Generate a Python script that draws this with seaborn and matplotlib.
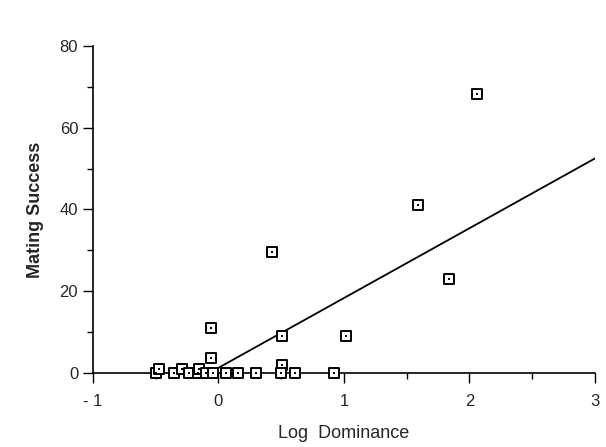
import numpy as np
import pandas as pd
import matplotlib
matplotlib.use('Agg')
import matplotlib.pyplot as plt
import seaborn as sns
from matplotlib.ticker import MultipleLocator

# data
log_dom = [2.06, 1.59, 1.84, 0.43, -0.06, -0.06, 0.51, 1.02, 0.51,
           -0.50, -0.47, -0.35, -0.29, -0.23, -0.16, -0.15, -0.10, -0.04,
           0.06, 0.16, 0.30, 0.50, 0.61, 0.92]
mating = [68.2, 41.1, 23.0, 29.5, 10.9, 3.6, 8.9, 8.9, 2.0,
          0.0, 0.9, 0.0, 0.9, 0.0, 0.0, 0.9, 0.0, 0.0,
          0.0, 0.0, 0.0, 0.0, 0.0, 0.0]
fit_x = [-0.07, 3.0]
fit_y = [0.0, 52.5]
x_ticks = [-1, 0, 1, 2, 3]
x_ticklabels = ['- 1', '0', '1', '2', '3']

df = pd.DataFrame({'Log Dominance': log_dom, 'Mating Success': mating})
fit = pd.DataFrame({'x': fit_x, 'y': fit_y})

sns.set_style('ticks')
plt.rcParams['font.family'] = ['Liberation Sans', 'DejaVu Sans']

fig = plt.figure(figsize=(6.06, 4.47), dpi=100)
ax = fig.add_axes([0.153, 0.166, 0.829, 0.731])

sns.lineplot(data=fit, x='x', y='y', color='black', linewidth=1.3, ax=ax, zorder=2)
sns.scatterplot(data=df, x='Log Dominance', y='Mating Success', marker='s', s=55,
                facecolor='white', edgecolor='black', linewidth=1.4, ax=ax,
                zorder=3, clip_on=False)
sns.scatterplot(data=df, x='Log Dominance', y='Mating Success', marker='s', s=3,
                color='black', linewidth=0, ax=ax, zorder=4, clip_on=False)

ax.set_xlim(-1, 3)
ax.set_ylim(0, 80)
ax.xaxis.set_minor_locator(MultipleLocator(0.5))
ax.yaxis.set_major_locator(MultipleLocator(20))
ax.yaxis.set_minor_locator(MultipleLocator(10))
ax.set_xticks(x_ticks)
ax.set_xticklabels(x_ticklabels)
ax.tick_params(which='major', length=7, width=1, labelsize=12, color='black')
ax.tick_params(which='minor', length=4, width=1, color='black')
ax.tick_params(axis='x', pad=8)
for s in ['left', 'bottom']:
    ax.spines[s].set_color('black')
    ax.spines[s].set_linewidth(1.2)
sns.despine(ax=ax)

ax.set_xlabel('Log  Dominance', fontsize=13, labelpad=12)
ax.set_ylabel('Mating Success', fontsize=13, fontweight='bold', labelpad=11)

fig.savefig('out.png', dpi=100)
